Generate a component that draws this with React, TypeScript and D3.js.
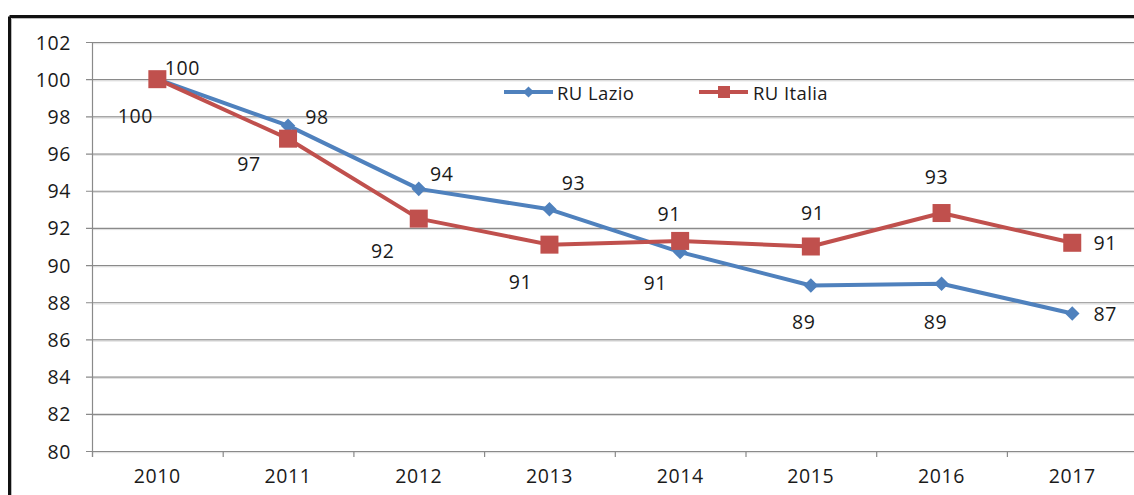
import React from 'react';
import * as d3 from 'd3';

const years = ['2010', '2011', '2012', '2013', '2014', '2015', '2016', '2017'];
const lazio = [100, 97.5, 94.1, 93.0, 90.7, 88.9, 89.0, 87.4];
const italia = [100, 96.8, 92.5, 91.1, 91.3, 91.0, 92.8, 91.2];
const lazioLabels = ['100', '98', '94', '93', '91', '89', '89', '87'];
const italiaLabels = ['100', '97', '92', '91', '91', '91', '93', '91'];
const yTicks = [80, 82, 84, 86, 88, 90, 92, 94, 96, 98, 100, 102];

// where each data label sits relative to its point
const lazioOffsets = [[25, -12], [29, -9], [23, -15], [24, -27], [-25, 30], [-7, 36], [-6, 38], [33, 0]];
const italiaOffsets = [[-22, 36], [-39, 25], [-36, 32], [-29, 37], [-11, -27], [2, -34], [-5, -37], [33, 0]];

const W = 1134;
const H = 495;
const FONT = '"Open Sans", sans-serif';
const BLUE = '#4F81BD';
const RED = '#C0504D';

export default function App() {
    const left = 92, top = 42, bottom = 451;
    const band = 130.7;

    const x = d3.scaleBand().domain(years).range([left, left + band * years.length]);
    const y = d3.scaleLinear().domain([80, 102]).range([bottom, top]);
    const cx = (yr: string) => (x(yr) as number) + x.bandwidth() / 2;

    const line = d3.line<number>()
        .x((d, i) => cx(years[i]))
        .y(d => y(d));

    const diamond = d3.symbol().type(d3.symbolDiamond2).size(135)();

    const textStyle = {fontFamily: FONT, fontSize: 19.5, letterSpacing: 0.6, fill: '#1a1a1a'};

    return (
        <svg width={W} height={H} style={{position: 'fixed', left: 0, top: 0, background: '#fff'}}>
            {/* frame */}
            <line x1={9.5} y1={16.5} x2={W} y2={16.5} stroke="#111" strokeWidth={3}/>
            <line x1={9.5} y1={16.5} x2={9.5} y2={H} stroke="#111" strokeWidth={3}/>
            <line x1={11.5} y1={18.5} x2={W} y2={18.5} stroke="#bbb" strokeWidth={1}/>
            <line x1={11.5} y1={18.5} x2={11.5} y2={H} stroke="#bbb" strokeWidth={1}/>

            {/* grid + y axis */}
            {yTicks.map(t => (
                <g key={t}>
                    <line x1={left - 6} x2={W} y1={y(t) + 0.5} y2={y(t) + 0.5} stroke="#8a8a8a" strokeWidth={1.2}/>
                    <line x1={left} x2={W} y1={y(t) + 1.7} y2={y(t) + 1.7} stroke="#dcdcdc" strokeWidth={1}/>
                    <text x={71} y={y(t)} textAnchor="end" dominantBaseline="central" style={textStyle}>{t}</text>
                </g>
            ))}
            <line x1={left + 0.5} x2={left + 0.5} y1={top} y2={bottom + 6} stroke="#8a8a8a" strokeWidth={1.2}/>

            {/* x axis */}
            {years.map(yr => (
                <g key={yr}>
                    <line x1={(x(yr) as number) + 0.5} x2={(x(yr) as number) + 0.5} y1={bottom} y2={bottom + 6}
                          stroke="#8a8a8a" strokeWidth={1.2}/>
                    <text x={cx(yr)} y={475} textAnchor="middle" dominantBaseline="central" style={textStyle}>{yr}</text>
                </g>
            ))}

            {/* series */}
            <path d={line(lazio) as string} fill="none" stroke={BLUE} strokeWidth={4} strokeLinejoin="round"/>
            <path d={line(italia) as string} fill="none" stroke={RED} strokeWidth={4} strokeLinejoin="round"/>

            {lazio.map((v, i) => (
                <path key={'l' + i} d={diamond as string} fill={BLUE}
                      transform={`translate(${cx(years[i])},${y(v)})`}/>
            ))}
            {italia.map((v, i) => (
                <rect key={'r' + i} x={cx(years[i]) - 9} y={y(v) - 9} width={18} height={18} fill={RED}/>
            ))}

            {/* data labels */}
            {lazio.map((v, i) => (
                <text key={'lt' + i} x={cx(years[i]) + lazioOffsets[i][0]} y={y(v) + lazioOffsets[i][1]}
                      textAnchor="middle" dominantBaseline="central" style={textStyle}>{lazioLabels[i]}</text>
            ))}
            {italia.map((v, i) => (
                <text key={'it' + i} x={cx(years[i]) + italiaOffsets[i][0]} y={y(v) + italiaOffsets[i][1]}
                      textAnchor="middle" dominantBaseline="central" style={textStyle}>{italiaLabels[i]}</text>
            ))}

            {/* legend */}
            <g transform="translate(504,92)">
                <line x1={0} x2={49} y1={0} y2={0} stroke={BLUE} strokeWidth={4}/>
                <path d={d3.symbol().type(d3.symbolDiamond2).size(80)() as string} fill={BLUE} transform="translate(24.5,0)"/>
                <text x={53} y={0} dominantBaseline="central" style={{...textStyle, fontSize: 18.5, letterSpacing: 0.4}}>RU Lazio</text>
            </g>
            <g transform="translate(699,92)">
                <line x1={0} x2={49} y1={0} y2={0} stroke={RED} strokeWidth={4}/>
                <rect x={19} y={-6} width={12} height={12} fill={RED}/>
                <text x={54} y={0} dominantBaseline="central" style={{...textStyle, fontSize: 18.5, letterSpacing: 0.4}}>RU Italia</text>
            </g>
        </svg>
    );
}
